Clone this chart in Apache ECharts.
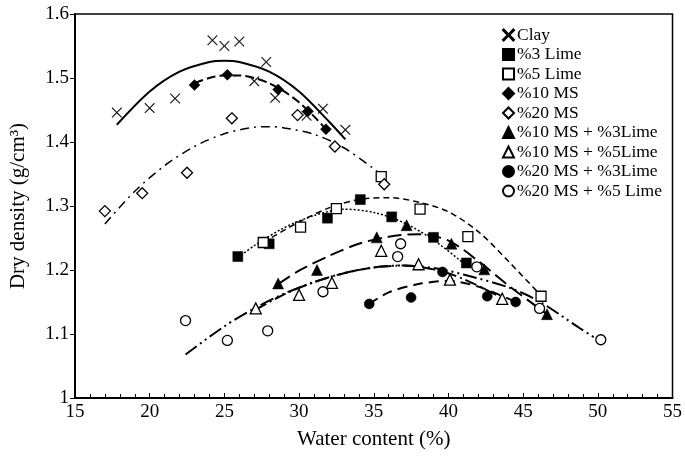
<!DOCTYPE html>
<html><head><meta charset="utf-8">
<script src="https://cdn.jsdelivr.net/npm/echarts@6/dist/echarts.min.js"></script>
<style>html,body{margin:0;padding:0;background:#fff}#c{width:685px;height:461px}</style>
</head><body><div id="c"></div>
<script>
// ---- data ----
const names = ['Clay','%3 Lime','%5 Lime','%10 MS','%20 MS','%10 MS + %3Lime','%10 MS + %5Lime','%20 MS + %3Lime','%20 MS + %5 Lime'];

const clayX = [17.8, 20.0, 21.7, 24.2, 25.0, 26.0, 27.0, 27.8, 28.4, 30.5, 31.6, 33.1];
const clayY = [1.446, 1.453, 1.468, 1.559, 1.550, 1.557, 1.495, 1.525, 1.469, 1.441, 1.452, 1.419];
const lime3X = [25.9, 28.0, 31.9, 34.1, 36.2, 39.0, 41.2];
const lime3Y = [1.221, 1.241, 1.281, 1.310, 1.283, 1.251, 1.211];
const lime5X = [27.6, 30.1, 32.5, 35.5, 38.1, 41.3, 46.2];
const lime5Y = [1.243, 1.267, 1.296, 1.346, 1.295, 1.252, 1.159];
const ms10X = [23.0, 25.2, 28.6, 30.6, 31.8];
const ms10Y = [1.489, 1.505, 1.482, 1.448, 1.420];
const ms20X = [17.0, 19.5, 22.5, 25.5, 29.9, 32.4, 35.7];
const ms20Y = [1.292, 1.320, 1.352, 1.437, 1.442, 1.393, 1.334];
const ms10l3X = [28.6, 31.2, 35.2, 37.2, 40.2, 42.4, 46.6];
const ms10l3Y = [1.179, 1.200, 1.251, 1.270, 1.241, 1.201, 1.131];
const ms10l5X = [27.1, 30.0, 32.2, 35.5, 38.0, 40.1, 43.6];
const ms10l5Y = [1.140, 1.161, 1.180, 1.230, 1.209, 1.185, 1.155];
const ms20l3X = [34.7, 37.5, 39.6, 42.6, 44.5];
const ms20l3Y = [1.147, 1.157, 1.197, 1.159, 1.150];
const ms20l5X = [22.4, 25.2, 27.9, 31.6, 36.6, 36.8, 41.9, 46.1, 50.2];
const ms20l5Y = [1.121, 1.090, 1.105, 1.166, 1.221, 1.241, 1.205, 1.140, 1.091];

// trend curves, points
const clayFitX = [17.8, 20, 22, 24, 25, 26, 28, 30, 32, 33.1];
const clayFitY = [1.427, 1.479, 1.510, 1.525, 1.527, 1.525, 1.510, 1.479, 1.432, 1.404];
const ms10FitX = [23, 24, 25, 26, 27, 28, 29, 30, 31, 31.8];
const ms10FitY = [1.492, 1.500, 1.504, 1.504, 1.500, 1.492, 1.479, 1.462, 1.440, 1.420];
const ms20FitX = [17, 19, 21, 23, 25, 27, 28, 29, 31, 33, 35.7];
const ms20FitY = [1.272, 1.323, 1.363, 1.393, 1.413, 1.423, 1.424, 1.422, 1.412, 1.391, 1.346];
const lime3FitX = [25.9, 27, 29, 31, 33, 35, 37, 39, 41.3];
const lime3FitY = [1.219, 1.238, 1.266, 1.285, 1.295, 1.290, 1.274, 1.247, 1.205];
const lime5FitX = [27.6, 30, 32, 34, 36, 38, 40, 42, 44, 46.2];
const lime5FitY = [1.243, 1.275, 1.297, 1.310, 1.313, 1.306, 1.291, 1.260, 1.214, 1.160];
const ms10l3FitX = [28.6, 30, 32, 34, 36, 38, 40, 42, 44, 46.6];
const ms10l3FitY = [1.178, 1.199, 1.222, 1.241, 1.252, 1.256, 1.246, 1.214, 1.176, 1.131];
const ms10l5FitX = [27.1, 29, 31, 33, 35, 37, 39, 41, 43.6];
const ms10l5FitY = [1.138, 1.162, 1.181, 1.195, 1.204, 1.207, 1.201, 1.186, 1.156];
const ms20l3FitX = [34.7, 36, 38, 40, 42, 44.5];
const ms20l3FitY = [1.147, 1.165, 1.178, 1.183, 1.174, 1.150];
const ms20l5FitX = [22.4, 25, 27, 29, 31, 33, 35, 37, 39, 41, 44, 46, 48.8, 50.2];
const ms20l5FitY = [1.068, 1.112, 1.140, 1.163, 1.181, 1.195, 1.204, 1.207, 1.203, 1.193, 1.173, 1.152, 1.109, 1.088];

const xTicks = [15, 20, 25, 30, 35, 40, 45, 50, 55];
const yTicks = [1, 1.1, 1.2, 1.3, 1.4, 1.5, 1.6];

// ---- build ----
const FONT = '"Liberation Serif", "Times New Roman", serif';
const cross = 'path://M0.6,0L5,4.4L9.4,0L10,0.6L5.6,5L10,9.4L9.4,10L5,5.6L0.6,10L0,9.4L4.4,5L0,0.6Z';
const zip = (a, b) => a.map((v, i) => [v, b[i]]);
const filled = {color: '#000', borderColor: '#000', borderWidth: 0.5, opacity: 1};
const crossStyle = {color: '#000', borderColor: '#000', borderWidth: 0.3, opacity: 1};
const open = {color: '#fff', borderColor: '#000', borderWidth: 1.3, opacity: 1};

const markerDefs = [
  [clayX, clayY, cross, crossStyle, 10],
  [lime3X, lime3Y, 'rect', filled, 10],
  [lime5X, lime5Y, 'rect', open, 10],
  [ms10X, ms10Y, 'diamond', filled, 11],
  [ms20X, ms20Y, 'diamond', open, 11],
  [ms10l3X, ms10l3Y, 'triangle', filled, 11],
  [ms10l5X, ms10l5Y, 'triangle', open, 11],
  [ms20l3X, ms20l3Y, 'circle', filled, 10],
  [ms20l5X, ms20l5Y, 'circle', open, 10]
];
const fitDefs = [
  [clayFitX, clayFitY, 'solid', 2],
  [lime3FitX, lime3FitY, [2, 2], 1.5],
  [lime5FitX, lime5FitY, [6, 4], 1.5],
  [ms10FitX, ms10FitY, [9, 4], 2],
  [ms20FitX, ms20FitY, [9, 5, 2, 5], 1.5],
  [ms10l3FitX, ms10l3FitY, [14, 6], 2],
  [ms10l5FitX, ms10l5FitY, [12, 4, 2, 4], 2],
  [ms20l3FitX, ms20l3FitY, [10, 6], 2],
  [ms20l5FitX, ms20l5FitY, [14, 4, 2, 4, 2, 4], 2]
];

const series = [];
fitDefs.forEach((f, i) => {
  series.push({
    name: 'fit' + i, type: 'line', data: zip(f[0], f[1]), smooth: 0.3,
    showSymbol: false, silent: true, z: 2,
    lineStyle: {color: '#000', width: f[3], type: f[2]}
  });
});
markerDefs.forEach((m, i) => {
  series.push({
    name: names[i], type: 'scatter', data: zip(m[0], m[1]), z: 3,
    symbol: m[2], symbolSize: m[4], itemStyle: m[3]
  });
});

const chart = echarts.init(document.getElementById('c'), null, {renderer: 'canvas'});
chart.setOption({
  animation: false,
  backgroundColor: '#fff',
  textStyle: {fontFamily: FONT},
  grid: {left: 73, right: 12, top: 14, bottom: 63, show: true, borderColor: '#000', borderWidth: 1.5, backgroundColor: 'transparent'},
  legend: {
    orient: 'vertical', left: 497, top: 21, itemGap: 1.5, itemWidth: 11, itemHeight: 11,
    textStyle: {fontFamily: FONT, fontSize: 17.5, color: '#000', padding: [0, 0, 0, -2]},
    data: names.map((n, i) => ({name: n, icon: markerDefs[i][2]}))
  },
  xAxis: {
    type: 'value', min: xTicks[0], max: xTicks[xTicks.length - 1], interval: 5,
    name: 'Water content (%)', nameLocation: 'middle', nameGap: 31,
    nameTextStyle: {fontFamily: FONT, fontSize: 21, color: '#000'},
    axisLine: {lineStyle: {color: '#000', width: 2}},
    axisTick: {inside: true, length: 5, lineStyle: {color: '#000', width: 1}},
    minorTick: {show: true, splitNumber: 5, length: 4, lineStyle: {color: '#000', width: 1}},
    splitLine: {show: false},
    axisLabel: {fontFamily: FONT, fontSize: 19, color: '#000', margin: 5}
  },
  yAxis: {
    type: 'value', min: yTicks[0], max: yTicks[yTicks.length - 1], interval: 0.1,
    name: 'Dry density (g/cm³)', nameLocation: 'middle', nameGap: 46,
    nameTextStyle: {fontFamily: FONT, fontSize: 21, color: '#000'},
    axisLine: {lineStyle: {color: '#000', width: 2}},
    axisTick: {inside: false, length: 5, lineStyle: {color: '#000', width: 1}},
    splitLine: {show: false},
    axisLabel: {fontFamily: FONT, fontSize: 19, color: '#000', margin: 6,
      formatter: v => String(Math.round(v * 10) / 10)}
  },
  series: series
});
</script>
</body></html>
